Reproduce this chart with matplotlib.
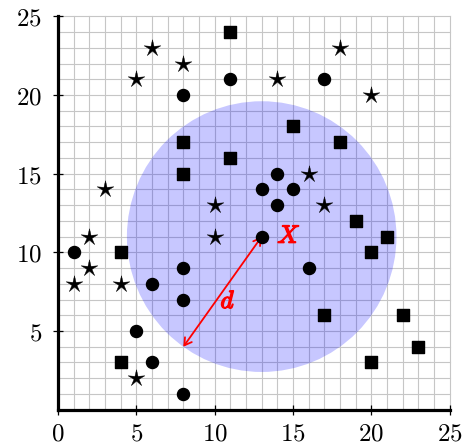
import numpy as np
import matplotlib
matplotlib.use("Agg")
import matplotlib.pyplot as plt
from matplotlib.path import Path
from matplotlib.patches import Circle, FancyArrowPatch
import matplotlib.patheffects as pe

plt.rcParams['mathtext.fontset'] = 'cm'

# Data
star_x = [6, 5, 8, 14, 18, 20, 3, 10, 10, 16, 17, 2, 2, 1, 4, 5]
star_y = [23, 21, 22, 21, 23, 20, 14, 13, 11, 15, 13, 11, 9, 8, 8, 2]
circ_x = [8, 11, 17, 13, 14, 15, 14, 13, 16, 1, 6, 8, 8, 5, 6, 8]
circ_y = [20, 21, 21, 14, 15, 14, 13, 11, 9, 10, 8, 9, 7, 5, 3, 1]
sq_x = [11, 8, 8, 11, 15, 18, 19, 21, 20, 17, 22, 23, 20, 4, 4]
sq_y = [24, 17, 15, 16, 18, 17, 12, 11, 10, 6, 6, 4, 3, 10, 3]
query = (13, 11)
edge_pt = (8, 4)
ticks = [0, 5, 10, 15, 20, 25]

# thin star marker
angles_outer = np.pi / 2 + np.arange(5) * 2 * np.pi / 5
angles_inner = angles_outer + np.pi / 5
verts = []
for ao, ai in zip(angles_outer, angles_inner):
    verts.append((np.cos(ao), np.sin(ao)))
    verts.append((0.3 * np.cos(ai), 0.3 * np.sin(ai)))
verts.append(verts[0])
codes = [Path.MOVETO] + [Path.LINETO] * (len(verts) - 2) + [Path.CLOSEPOLY]
star_marker = Path(verts, codes)

fig = plt.figure(figsize=(4.64, 4.46), dpi=100)
ax = fig.add_axes([58 / 464, 36.3 / 446, 391.7 / 464, 393.4 / 446])
ax.set_xlim(0, 25)
ax.set_ylim(0, 25)

# grid
for v in range(1, 26):
    ax.axvline(v, color='#c6c6c6', lw=0.8, zorder=1, clip_on=False)
    ax.axhline(v, color='#c6c6c6', lw=0.8, zorder=1, clip_on=False)

r = np.hypot(query[0] - edge_pt[0], query[1] - edge_pt[1])
ax.add_patch(Circle(query, r, facecolor=(0.0, 0.0, 1.0), alpha=0.22,
                    edgecolor='none', zorder=2))

ax.scatter(star_x, star_y, marker=star_marker, s=160, color='black',
           linewidths=0.3, zorder=4)
ax.scatter(circ_x, circ_y, marker='o', s=75, color='black', zorder=4)
ax.scatter(sq_x, sq_y, marker='s', s=64, color='black', zorder=4)

arr = FancyArrowPatch(query, edge_pt, arrowstyle='<->,head_length=5,head_width=3',
                      color='red', lw=1.3, shrinkA=0, shrinkB=0, zorder=3)
ax.add_patch(arr)
bold = [pe.withStroke(linewidth=1.0, foreground='red')]
ax.text(14.0, 11.05, r'$X$', color='red', fontsize=18,
        ha='left', va='center', zorder=5, path_effects=bold)
ax.text(10.85, 6.9, r'$d$', color='red', fontsize=18,
        ha='center', va='center', zorder=5, path_effects=bold)

for s in ['top', 'right']:
    ax.spines[s].set_visible(False)
for s in ['left', 'bottom']:
    ax.spines[s].set_linewidth(2.3)
    ax.spines[s].set_capstyle('projecting')
    ax.spines[s].set_zorder(6)

ax.set_xticks(ticks)
ax.set_xticklabels([f'${t}$' for t in ticks])
ax.set_yticks(ticks[1:])
ax.set_yticklabels([f'${t}$' for t in ticks[1:]])
ax.tick_params(axis='both', direction='inout', length=7, width=0.9,
               labelsize=18, colors='black')
ax.tick_params(axis='x', pad=5)
ax.tick_params(axis='y', pad=8)

fig.savefig('out.png', dpi=100)
